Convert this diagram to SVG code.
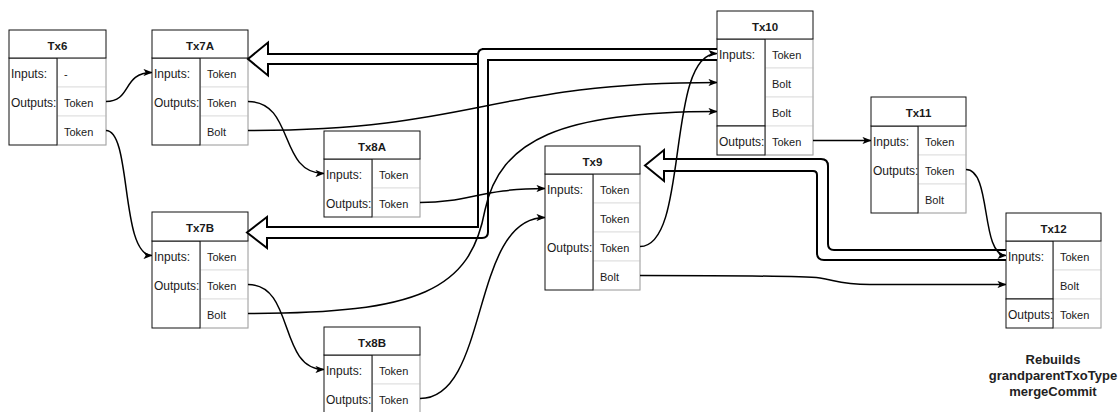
<svg xmlns="http://www.w3.org/2000/svg" width="1120" height="412" viewBox="0 0 1120 412">
  <defs>
    <style>
      .hdr { fill: #fff; stroke: #111; stroke-width: 1; }
      .lcell { fill: #fff; stroke: #111; stroke-width: 1; }
      .rcell { fill: #fff; stroke: #e0e0e0; stroke-width: 1; }
      .rcol { fill: none; stroke: #a6a6a6; stroke-width: 1; }
      .title { font-family: "Liberation Sans", Arial, sans-serif; font-size: 11.5px; font-weight: bold; fill: #1a1a1a; text-anchor: middle; }
      .lbl { font-family: "Liberation Sans", Arial, sans-serif; font-size: 12px; fill: #1a1a1a; }
      .val { font-family: "Liberation Sans", Arial, sans-serif; font-size: 11px; fill: #1a1a1a; }
      .note { font-family: "Liberation Sans", Arial, sans-serif; font-size: 13px; font-weight: bold; fill: #222; text-anchor: middle; }
      .edge { fill: none; stroke: #000; stroke-width: 1.5; marker-end: url(#arr); }
      .flex { fill: #fff; stroke: #000; stroke-width: 2; stroke-linejoin: miter; }
    </style>
    <marker id="arr" viewBox="0 0 10 8" refX="9.5" refY="4" markerWidth="9" markerHeight="7.2" markerUnits="userSpaceOnUse" orient="auto">
      <path d="M0,0 L10,4 L0,8 L2.5,4 z" fill="#000"/>
    </marker>
  </defs>

  <rect x="0" y="0" width="1120" height="412" fill="#fff"/>

  <!-- Tx6 -->
  <g id="node-tx6">
    <rect class="rcell" x="57" y="58" width="49" height="29"/>
    <rect class="rcell" x="57" y="87" width="49" height="29"/>
    <rect class="rcell" x="57" y="116" width="49" height="29"/>
    <rect class="rcol" x="57" y="58" width="49" height="87"/>
    <rect class="lcell" x="9" y="58" width="48" height="87"/>
    <rect class="hdr" x="9" y="30" width="97" height="28"/>
    <text class="title" x="57.5" y="49.5">Tx6</text>
    <text class="lbl" x="11" y="78">Inputs:</text>
    <text class="lbl" x="11" y="107">Outputs:</text>
    <text class="val" x="64" y="78">-</text>
    <text class="val" x="64" y="107">Token</text>
    <text class="val" x="64" y="136">Token</text>
  </g>

  <!-- Tx7A -->
  <g id="node-tx7a">
    <rect class="rcell" x="200" y="58" width="48" height="29"/>
    <rect class="rcell" x="200" y="87" width="48" height="29"/>
    <rect class="rcell" x="200" y="116" width="48" height="29"/>
    <rect class="rcol" x="200" y="58" width="48" height="87"/>
    <rect class="lcell" x="152" y="58" width="48" height="87"/>
    <rect class="hdr" x="152" y="30" width="96" height="28"/>
    <text class="title" x="200" y="49.5">Tx7A</text>
    <text class="lbl" x="154" y="78">Inputs:</text>
    <text class="lbl" x="154" y="107">Outputs:</text>
    <text class="val" x="207" y="78">Token</text>
    <text class="val" x="207" y="107">Token</text>
    <text class="val" x="207" y="136">Bolt</text>
  </g>

  <!-- Tx8A -->
  <g id="node-tx8a">
    <rect class="rcell" x="372" y="159" width="48" height="29"/>
    <rect class="rcell" x="372" y="188" width="48" height="29"/>
    <rect class="rcol" x="372" y="159" width="48" height="58"/>
    <rect class="lcell" x="324" y="159" width="48" height="58"/>
    <rect class="hdr" x="324" y="131" width="96" height="28"/>
    <text class="title" x="372" y="150.5">Tx8A</text>
    <text class="lbl" x="326" y="179">Inputs:</text>
    <text class="lbl" x="326" y="208">Outputs:</text>
    <text class="val" x="379" y="179">Token</text>
    <text class="val" x="379" y="208">Token</text>
  </g>

  <!-- Tx7B -->
  <g id="node-tx7b">
    <rect class="rcell" x="200" y="241" width="48" height="29"/>
    <rect class="rcell" x="200" y="270" width="48" height="29"/>
    <rect class="rcell" x="200" y="299" width="48" height="29"/>
    <rect class="rcol" x="200" y="241" width="48" height="87"/>
    <rect class="lcell" x="152" y="241" width="48" height="87"/>
    <rect class="hdr" x="152" y="212" width="96" height="29"/>
    <text class="title" x="200" y="231.5">Tx7B</text>
    <text class="lbl" x="154" y="261">Inputs:</text>
    <text class="lbl" x="154" y="290">Outputs:</text>
    <text class="val" x="207" y="261">Token</text>
    <text class="val" x="207" y="290">Token</text>
    <text class="val" x="207" y="319">Bolt</text>
  </g>

  <!-- Tx8B -->
  <g id="node-tx8b">
    <rect class="rcell" x="372" y="355" width="48" height="29"/>
    <rect class="rcell" x="372" y="384" width="48" height="29"/>
    <rect class="rcol" x="372" y="355" width="48" height="58"/>
    <rect class="lcell" x="324" y="355" width="48" height="58"/>
    <rect class="hdr" x="324" y="327" width="96" height="28"/>
    <text class="title" x="372" y="346.5">Tx8B</text>
    <text class="lbl" x="326" y="375">Inputs:</text>
    <text class="lbl" x="326" y="404">Outputs:</text>
    <text class="val" x="379" y="375">Token</text>
    <text class="val" x="379" y="404">Token</text>
  </g>

  <!-- Tx10 -->
  <g id="node-tx10">
    <rect class="rcell" x="765" y="39" width="48" height="29"/>
    <rect class="rcell" x="765" y="68" width="48" height="29"/>
    <rect class="rcell" x="765" y="97" width="48" height="29"/>
    <rect class="rcell" x="765" y="126" width="48" height="29"/>
    <rect class="rcol" x="765" y="39" width="48" height="116"/>
    <rect class="lcell" x="717" y="39" width="48" height="87"/>
    <rect class="lcell" x="717" y="126" width="48" height="29"/>
    <rect class="hdr" x="717" y="11" width="96" height="28"/>
    <text class="title" x="765" y="30.5">Tx10</text>
    <text class="lbl" x="719" y="59">Inputs:</text>
    <text class="lbl" x="719" y="146">Outputs:</text>
    <text class="val" x="772" y="59">Token</text>
    <text class="val" x="772" y="88">Bolt</text>
    <text class="val" x="772" y="117">Bolt</text>
    <text class="val" x="772" y="146">Token</text>
  </g>

  <!-- Tx9 -->
  <g id="node-tx9">
    <rect class="rcell" x="593" y="174" width="47" height="29"/>
    <rect class="rcell" x="593" y="203" width="47" height="29"/>
    <rect class="rcell" x="593" y="232" width="47" height="29"/>
    <rect class="rcell" x="593" y="261" width="47" height="29"/>
    <rect class="rcol" x="593" y="174" width="47" height="116"/>
    <rect class="lcell" x="545" y="174" width="48" height="116"/>
    <rect class="hdr" x="545" y="146" width="95" height="28"/>
    <text class="title" x="592.5" y="165.5">Tx9</text>
    <text class="lbl" x="547" y="194">Inputs:</text>
    <text class="lbl" x="547" y="252">Outputs:</text>
    <text class="val" x="600" y="194">Token</text>
    <text class="val" x="600" y="223">Token</text>
    <text class="val" x="600" y="252">Token</text>
    <text class="val" x="600" y="281">Bolt</text>
  </g>

  <!-- Tx11 -->
  <g id="node-tx11">
    <rect class="rcell" x="918" y="126" width="48" height="29"/>
    <rect class="rcell" x="918" y="155" width="48" height="29"/>
    <rect class="rcell" x="918" y="184" width="48" height="29"/>
    <rect class="rcol" x="918" y="126" width="48" height="87"/>
    <rect class="lcell" x="871" y="126" width="47" height="87"/>
    <rect class="hdr" x="871" y="97" width="95" height="29"/>
    <text class="title" x="918.5" y="116.5">Tx11</text>
    <text class="lbl" x="873" y="146">Inputs:</text>
    <text class="lbl" x="873" y="175">Outputs:</text>
    <text class="val" x="925" y="146">Token</text>
    <text class="val" x="925" y="175">Token</text>
    <text class="val" x="925" y="204">Bolt</text>
  </g>

  <!-- Tx12 -->
  <g id="node-tx12">
    <rect class="rcell" x="1053" y="241" width="48" height="29"/>
    <rect class="rcell" x="1053" y="270" width="48" height="29"/>
    <rect class="rcell" x="1053" y="299" width="48" height="29"/>
    <rect class="rcol" x="1053" y="241" width="48" height="87"/>
    <rect class="lcell" x="1006" y="241" width="47" height="58"/>
    <rect class="lcell" x="1006" y="299" width="47" height="29"/>
    <rect class="hdr" x="1006" y="213" width="95" height="28"/>
    <text class="title" x="1053.5" y="232.5">Tx12</text>
    <text class="lbl" x="1008" y="261">Inputs:</text>
    <text class="lbl" x="1008" y="319">Outputs:</text>
    <text class="val" x="1060" y="261">Token</text>
    <text class="val" x="1060" y="290">Bolt</text>
    <text class="val" x="1060" y="319">Token</text>
  </g>

  <g id="connectors">
    <!-- hollow rebuild arrows -->
    <path class="flex" d="M717,49 L483,49 L483,54 L268,54 L268,42.5 L248,59 L268,75.5 L268,64 L483,64 L483,60 L717,60"/>
    <path class="flex" d="M717,49 L484,49 Q478,49 478,55 L478,227 L267,227 L267,217 L247,232.5 L267,248 L267,238 L482,238 Q488,238 488,232 L488,60 L717,60"/>
    <path class="flex" d="M1006,250 L834,250 Q828,250 828,244 L828,166 Q828,159 821,159 L664,159 L664,150 L645,165.5 L664,181 L664,171 L813,171 Q817,171 817,175 L817,253 Q817,260 824,260 L1006,260"/>

    <!-- output to input links -->
    <path class="edge" d="M106,101.5 C132,101.5 122,72.5 152,72.5"/>
    <path class="edge" d="M106,130.5 C132,130.5 120,255.5 152,255.5"/>
    <path class="edge" d="M248,101.5 C295,101.5 278,173.5 324,173.5"/>
    <path class="edge" d="M248,130.5 C478,130.5 488,82.5 717,82.5"/>
    <path class="edge" d="M420,202.5 C470,202.5 480,188.5 545,188.5"/>
    <path class="edge" d="M248,284.5 C295,284.5 278,369.5 324,369.5"/>
    <path class="edge" d="M248,313.5 C420,313.5 470,290 485,210 C500,140 560,111.5 717,111.5"/>
    <path class="edge" d="M420,398.5 C490,398.5 470,217.5 545,217.5"/>
    <path class="edge" d="M640,246.5 C690,246.5 665,53.5 717,53.5"/>
    <path class="edge" d="M813,140.5 L871,140.5"/>
    <path class="edge" d="M966,169.5 C992,169.5 980,255.5 1006,255.5"/>
    <path class="edge" d="M640,275.5 C740,275.5 800,276 820,278 C835,280 840,284.5 870,284.5 L1006,284.5"/>
  </g>

  <text class="note" x="1053" y="364">Rebuilds</text>
  <text class="note" x="1053" y="380">grandparentTxoType</text>
  <text class="note" x="1053" y="395.5">mergeCommit</text>
</svg>
